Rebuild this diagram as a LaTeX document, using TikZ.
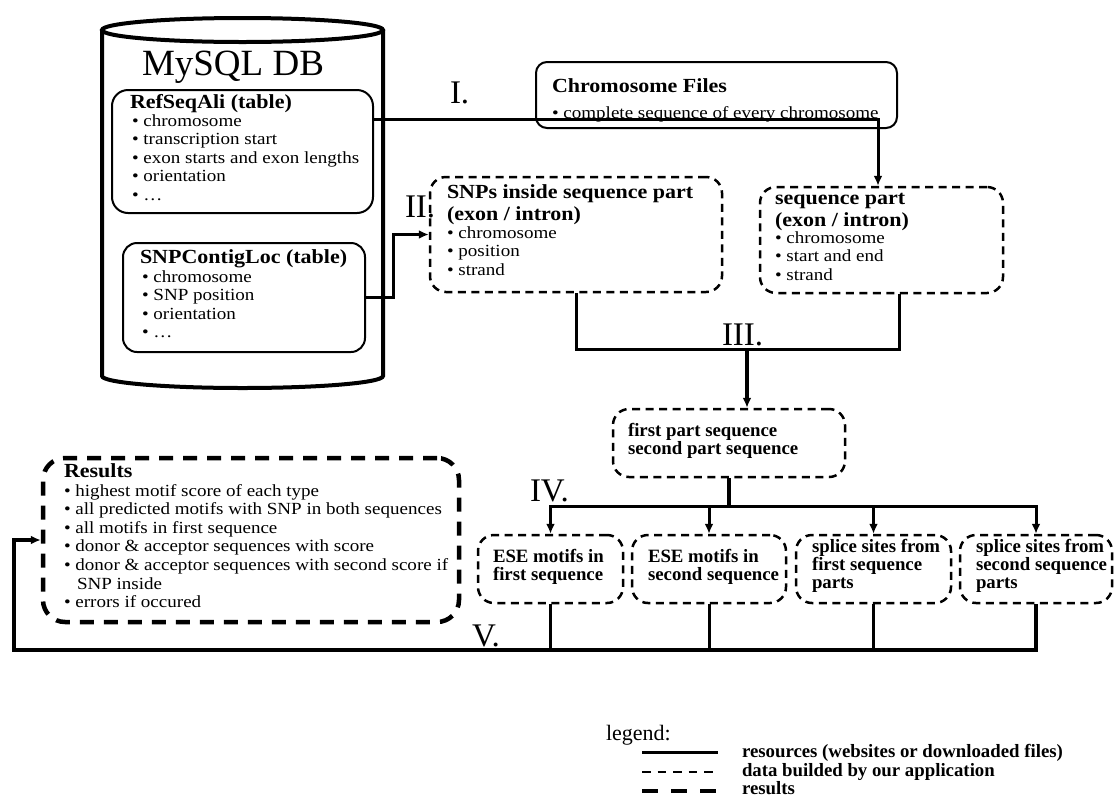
\documentclass[tikz,border=0pt]{standalone}
\usepackage{fontspec}
\setmainfont{Liberation Serif}
\newfontfamily\itemfont[FakeStretch=1.12]{Liberation Serif}
\newfontfamily\titlefont[FakeStretch=1.1]{Liberation Serif}
\usetikzlibrary{arrows.meta,calc}

\newcommand{\dgtitle}[1]{{\titlefont\bfseries\fontsize{20}{22}\selectfont\begin{tabular}[t]{@{}l@{}}#1\end{tabular}}}
\newcommand{\dgitems}[1]{{\itemfont\fontsize{17}{18.6}\selectfont\begin{tabular}[t]{@{}l@{}}#1\end{tabular}}}
\newcommand{\dgbold}[1]{{\bfseries\fontsize{18.8}{18}\selectfont\begin{tabular}[t]{@{}l@{}}#1\end{tabular}}}

\begin{document}
\begin{tikzpicture}[x=1pt,y=-1pt,
  txt/.style={anchor=base west,inner sep=0pt,outer sep=0pt},
  roman/.style={txt,font=\fontsize{33}{36}\selectfont},
  solidbox/.style={draw,line width=2pt,rounded corners=14pt},
  dashbox/.style={draw,line width=2.5pt,dash pattern=on 8pt off 5.5pt,rounded corners=16pt},
  resbox/.style={draw,line width=4.5pt,dash pattern=on 14pt off 10pt,rounded corners=22pt},
  conn/.style={draw,line width=3pt},
  thickconn/.style={draw,line width=4.5pt},
  vconn/.style={draw,line width=4pt},
  arr/.style={-{Latex[length=10pt,width=9pt]}}
]
\fill[white] (0,0) rectangle (1114,796);
\useasboundingbox (0,0) rectangle (1114,796);

% database cylinder
\draw[line width=4pt] (242.5,30) ellipse [x radius=140.5pt, y radius=12pt];
\draw[line width=4pt] (102,30) -- (102,376) arc[start angle=180,end angle=360,x radius=140.5pt,y radius=12pt] -- (383,30);
\node[txt,font=\fontsize{37}{40}\selectfont] (mysql) at (142,75) {MySQL DB};

% boxes
\node[solidbox,rounded corners=16pt,minimum width=261pt,minimum height=123pt] (refseq) at (242.5,151.5) {};
\node[solidbox,minimum width=242pt,minimum height=109pt] (snpctg) at (244,297.5) {};
\node[solidbox,rounded corners=11pt,minimum width=361pt,minimum height=66pt] (chrom) at (716.5,95) {};
\node[dashbox,minimum width=292pt,minimum height=115pt] (snps) at (576,234.5) {};
\node[dashbox,minimum width=243pt,minimum height=106pt] (seqpart) at (881.5,240) {};
\node[dashbox,minimum width=232pt,minimum height=68pt] (firstpart) at (729,443) {};
\node[dashbox,minimum width=145pt,minimum height=68pt] (ese1) at (550.5,569) {};
\node[dashbox,minimum width=154pt,minimum height=68pt] (ese2) at (709,569) {};
\node[dashbox,minimum width=155pt,minimum height=68pt] (ss1) at (873.5,569) {};
\node[dashbox,minimum width=152pt,minimum height=68pt] (ss2) at (1036,569) {};
\node[resbox,minimum width=416pt,minimum height=164pt] (results) at (251,540) {};

% texts
\node[txt] (refseqT) at (130,108) {\dgtitle{RefSeqAli (table)}};
\node[txt] (refseqI) at (132,126) {\dgitems{• chromosome\\• transcription start\\• exon starts and exon lengths\\• orientation\\• …}};
\node[txt] (snpctgT) at (140,263) {\dgtitle{SNPContigLoc (table)}};
\node[txt] (snpctgI) at (142,282) {\dgitems{• chromosome\\• SNP position\\• orientation\\• …}};
\node[txt] (chromT) at (552,92) {\dgtitle{Chromosome Files}};
\node[txt] (chromI) at (552,118) {\dgitems{• complete sequence of every chromosome}};
\node[txt] (snpsT) at (447,198) {\dgtitle{SNPs inside sequence part\\(exon / intron)}};
\node[txt] (snpsI) at (447,238) {\dgitems{• chromosome\\• position\\• strand}};
\node[txt] (seqT) at (775,204) {\dgtitle{sequence part\\(exon / intron)}};
\node[txt] (seqI) at (775,243) {\dgitems{• chromosome\\• start and end\\• strand}};
\node[txt] (firstT) at (628,436) {\dgbold{first part sequence\\second part sequence}};
\node[txt] (ese1T) at (493,562) {\dgbold{ESE motifs in\\first sequence}};
\node[txt] (ese2T) at (648,562) {\dgbold{ESE motifs in\\second sequence}};
\node[txt] (ss1T) at (812,552) {\dgbold{splice sites from\\first sequence\\parts}};
\node[txt] (ss2T) at (976,552) {\dgbold{splice sites from\\second sequence\\parts}};
\node[txt] (resT) at (64,477) {\dgtitle{Results}};
\node[txt] (resI) at (64,496) {\dgitems{• highest motif score of each type\\• all predicted motifs with SNP in both sequences\\• all motifs in first sequence\\• donor \& acceptor sequences with score\\• donor \& acceptor sequences with second score if\\\hspace*{13pt}SNP inside\\• errors if occured}};

% roman step labels
\node[roman] (lI) at (450,103) {I.};
\node[roman] (lII) at (405,217) {II.};
\node[roman] (lIII) at (722,345) {III.};
\node[roman] (lIV) at (530,501) {IV.};
\node[roman] (lV) at (472,646) {V.};

% connectors
\draw[conn,arr] ([yshift=32.5pt]refseq.east) -| ([xshift=-3.5pt]seqpart.north);
\draw[conn,arr] (snpctg.east) -| ([xshift=-35pt]snps.west) -- (snps.west);

\coordinate (hub3) at (747,349);
\draw[conn] (snps.south) |- (hub3) -| ([xshift=17.5pt]seqpart.south);
\draw[thickconn,arr] (hub3) -- (hub3 |- firstpart.north);

\coordinate (h4y) at (0,506);
\coordinate (hub4) at (firstpart.south |- h4y);
\draw[thickconn] (firstpart.south) -- (hub4);
\draw[conn,arr] (hub4) -| (ese1.north);
\draw[conn,arr] (hub4) -| (ss2.north);
\draw[conn,arr] (ese2.north |- hub4) -- (ese2.north);
\draw[conn,arr] (ss1.north |- hub4) -- (ss1.north);

\coordinate (vc) at (14,650);
\draw[vconn,arr] (ss2.south) |- (vc) |- (results.west);
\draw[conn] (ese1.south) -- (ese1.south |- vc);
\draw[conn] (ese2.south) -- (ese2.south |- vc);
\draw[conn] (ss1.south) -- (ss1.south |- vc);

% legend
\node[txt,font=\fontsize{22}{24}\selectfont] (legT) at (606,740) {legend:};
\coordinate (l1a) at (642,752); \coordinate (l1b) at (718,752);
\coordinate (l2a) at (642,772); \coordinate (l2b) at (718,772);
\coordinate (l3a) at (642,791); \coordinate (l3b) at (718,791);
\draw[line width=3pt] (l1a) -- (l1b);
\draw[line width=2.5pt,dash pattern=on 8.5pt off 7pt] (l2a) -- (l2b);
\draw[line width=4.5pt,dash pattern=on 16pt off 13pt] (l3a) -- (l3b);
\node[txt] (leg1) at (742,757) {\dgbold{resources (websites or downloaded files)}};
\node[txt] (leg2) at (742,776) {\dgbold{data builded by our application}};
\node[txt] (leg3) at (742,794) {\dgbold{results}};
\end{tikzpicture}
\end{document}
